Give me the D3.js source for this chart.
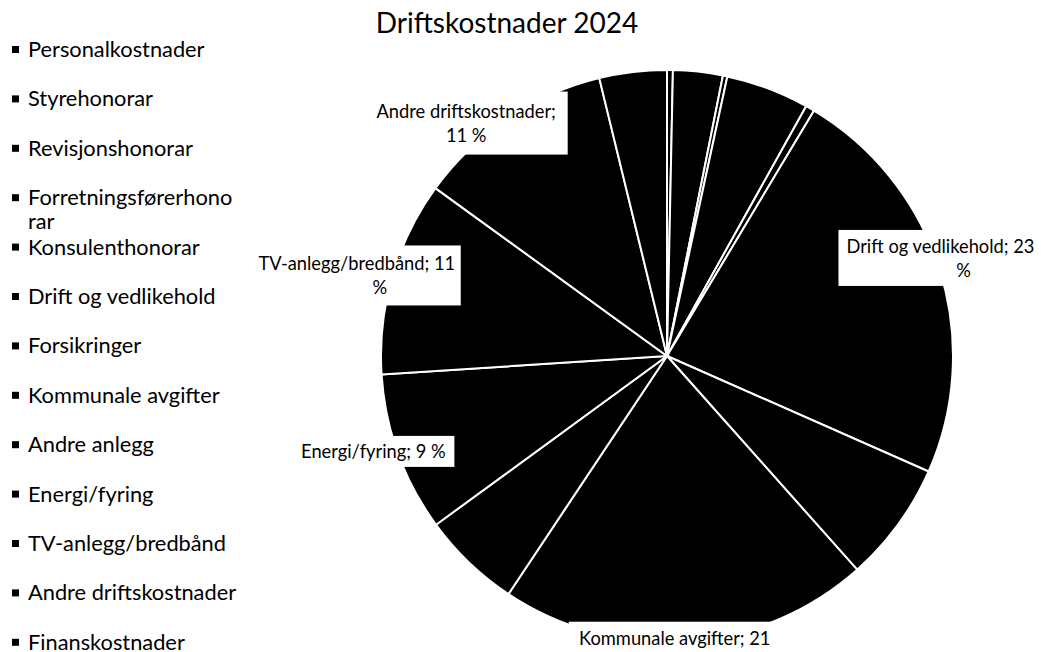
<!DOCTYPE html>
<html>
<head>
<meta charset="utf-8">
<script src="https://cdn.jsdelivr.net/npm/d3@7"></script>
<style>
  body { margin: 0; background: #fff; }
  svg text { font-family: Lato, "Liberation Sans", sans-serif; fill: #000; }
</style>
</head>
<body>
<svg id="chart" width="1041" height="652"></svg>
<script>
// data (share of total, %)
const chartTitle = "Driftskostnader 2024";
const categories = [
  "Personalkostnader",
  "Styrehonorar",
  "Revisjonshonorar",
  "Forretningsførerhonorar",
  "Konsulenthonorar",
  "Drift og vedlikehold",
  "Forsikringer",
  "Kommunale avgifter",
  "Andre anlegg",
  "Energi/fyring",
  "TV-anlegg/bredbånd",
  "Andre driftskostnader",
  "Finanskostnader",
];
const values = [0.33, 2.8, 0.25, 4.7, 0.5, 23.0, 6.8, 20.9, 5.6, 9.0, 11.0, 11.2, 3.8];

// label boxes: nudge from the slice centroid, box size, where the line breaks
const labelLayout = {
  "Drift og vedlikehold": { dx: 13, dy: -8, w: 250, h: 56, brk: 4, lineDx: [-23, 0] },
  "Kommunale avgifter": { dx: -13, dy: -3, w: 212, h: 56, brk: 3, lineDx: [0, 0] },
  "Energi/fyring": { dx: -14, dy: -6, w: 162, h: 31, brk: 99, lineDx: [0] },
  "TV-anlegg/bredbånd": { dx: -24.5, dy: 2, w: 208, h: 60, brk: 2, lineDx: [0, 23] },
  "Andre driftskostnader": { dx: -35, dy: 14, w: 203, h: 63, brk: 2, lineDx: [0, 0] },
};

const width = 1041;
const height = 652;
const cx = 667;
const cy = 356;
const radius = 286;

const data = categories.map((c, i) => ({ category: c, value: values[i] }));
const total = d3.sum(values);

const svg = d3.select("#chart");

// Title
svg
  .append("text")
  .attr("x", 507)
  .attr("y", 33)
  .attr("text-anchor", "middle")
  .style("font-size", "28px")
  .text(chartTitle);

// Pie
const g = svg.append("g").attr("transform", `translate(${cx},${cy})`);

const pie = d3.pie().sort(null).value((d) => d.value);
const arc = d3.arc().innerRadius(0).outerRadius(radius);
const labelArc = d3
  .arc()
  .innerRadius(radius * 1.04)
  .outerRadius(radius * 1.04);

const arcs = pie(data);

g.selectAll("path.slice")
  .data(arcs)
  .enter()
  .append("path")
  .attr("class", "slice")
  .attr("d", arc)
  .attr("fill", "#000")
  .attr("stroke", "#fff")
  .attr("stroke-width", 2);

// Data labels (only the big slices carry one)
const lineH = 24;
arcs
  .filter((d) => (d.data.value / total) * 100 >= 8)
  .forEach((d) => {
    const lay = labelLayout[d.data.category];
    const pct = Math.round((d.data.value / total) * 100);
    const words = `${d.data.category}; ${pct} %`.split(" ");
    const lines = [words.slice(0, lay.brk).join(" ")];
    if (lay.brk < words.length) lines.push(words.slice(lay.brk).join(" "));

    const [px, py] = labelArc.centroid(d);
    const x = px + lay.dx;
    const y = py + lay.dy;

    const lbl = g.append("g").attr("class", "label");
    lbl
      .append("rect")
      .attr("x", x - lay.w / 2)
      .attr("y", y - lay.h / 2)
      .attr("width", lay.w)
      .attr("height", lay.h)
      .attr("fill", "#fff");

    lines.forEach((t, i) => {
      lbl
        .append("text")
        .attr("x", x + (lay.lineDx[i] || 0))
        .attr("y", y + (i - (lines.length - 1) / 2) * lineH + 7)
        .attr("text-anchor", "middle")
        .style("font-size", "18.3px")
        .text(t);
    });
  });

// Legend on the left
const legendTop = 50;
const legendStep = 49.4;
const legendMaxW = 211;

const legend = svg
  .selectAll(".legend")
  .data(categories)
  .enter()
  .append("g")
  .attr("class", "legend")
  .attr("transform", (d, i) => `translate(0,${legendTop + i * legendStep})`);

legend
  .append("rect")
  .attr("x", 12)
  .attr("y", -4)
  .attr("width", 7)
  .attr("height", 7)
  .attr("fill", "#000");

legend.each(function (name) {
  const item = d3.select(this);
  const text = item
    .append("text")
    .attr("x", 28)
    .attr("y", 7)
    .style("font-size", "21.8px");
  // break long names the way the original legend does, letter by letter
  let line = "";
  let row = 0;
  const tspan = () =>
    text.append("tspan").attr("x", 28).attr("dy", row === 0 ? 0 : 24);
  let cur = tspan();
  for (const ch of name) {
    cur.text(line + ch);
    if (cur.node().getComputedTextLength() > legendMaxW && line.length) {
      cur.text(line);
      row++;
      line = ch;
      cur = tspan().text(line);
    } else {
      line += ch;
    }
  }
});
</script>
</body>
</html>
